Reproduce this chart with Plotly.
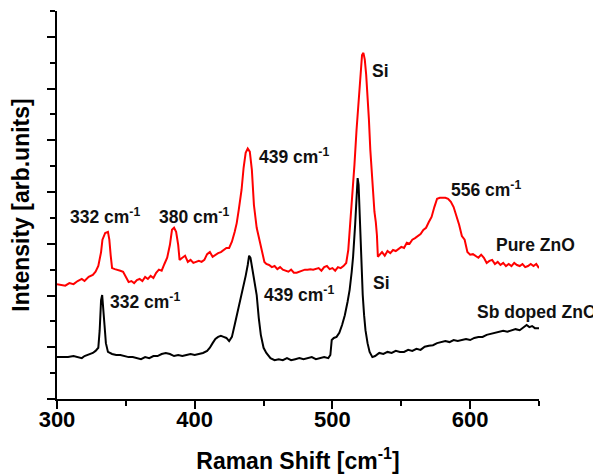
import plotly.graph_objects as go

# Raman shift (cm^-1) and intensity (arb. units)
pure_x = [300,303,306,309,312,315,318,320,323,326,328,330,332,333,335,337,338,339,340,342,344,346,348,350,352,354,356,358,360,362,364,366,368,370,372,374,376,378,380,382,383.5,385,386.5,388,389,391,393,395,397,399,401,403,405,407,409,411,413,415,417,419,421,423,425,427,429,430.5,432,434,435.5,437,438.5,440,441.5,443,445,447,449,450.6,452,454,456,458,460,462,464,466,468,470,472,474,476,478,480,482,484,486,488,490,492,494,496,498,500,502,504,506,508,510,511.5,513,514.5,516,517.5,519,520.5,521.5,522.5,523.5,524.5,525.5,526.5,527.5,528.5,529.5,530.5,531.5,532.3,533,534.5,536,538,540,542,544,546,548,550,552,554,556,558,560,562,564,566,568,570,572,574,576,578,580,582,584,586,588,590,592,594,596,598,600,602,604,606,608,610,612,614,616,618,620,622,624,626,628,630,632,634,636,638,640,642,644,646,648,650]
pure_y = [2.22,2.21,2.19,2.24,2.22,2.28,2.32,2.28,2.36,2.40,2.46,2.57,2.84,3.08,3.21,3.23,3.08,2.77,2.53,2.51,2.50,2.48,2.46,2.36,2.26,2.28,2.24,2.30,2.32,2.28,2.36,2.32,2.38,2.34,2.44,2.50,2.48,2.61,2.73,2.98,3.27,3.31,3.23,2.98,2.69,2.73,2.77,2.65,2.69,2.63,2.65,2.67,2.65,2.69,2.80,2.84,2.75,2.79,2.82,2.84,2.88,2.92,2.92,3.04,3.23,3.40,3.66,4.04,4.47,4.76,4.84,4.78,4.43,3.75,3.31,3.08,2.79,2.65,2.61,2.59,2.55,2.57,2.51,2.55,2.50,2.48,2.46,2.50,2.44,2.44,2.46,2.48,2.50,2.50,2.51,2.50,2.51,2.53,2.48,2.55,2.57,2.51,2.53,2.48,2.55,2.53,2.57,2.63,2.88,3.37,3.95,4.53,5.20,5.78,6.46,6.65,6.69,6.56,6.27,5.88,5.40,4.82,4.33,3.85,3.62,3.42,3.17,2.75,2.79,2.84,2.77,2.86,2.82,2.88,2.86,2.90,2.94,2.92,3.02,3.00,3.08,3.11,3.15,3.19,3.27,3.31,3.42,3.52,3.71,3.87,3.89,3.89,3.89,3.87,3.81,3.71,3.56,3.37,3.15,3.08,2.84,2.79,2.80,2.77,2.73,2.79,2.73,2.63,2.67,2.69,2.61,2.65,2.59,2.63,2.57,2.61,2.57,2.63,2.59,2.57,2.61,2.55,2.57,2.61,2.57,2.61,2.53]

sb_x = [300,304,308,312,316,318,320,322,324,326,328,330,331,332,332.8,333.5,334.5,335.5,337,340,343,346,349,352,355,358,361,364,367,370,373,376,379,382,385,388,391,394,397,400,403,406,409,411,413,415,417,419,421,423,425,427,429,431,433,435,437,438.5,439.5,440.5,442,443.5,445,446.5,448,450,452,455,458,461,464,467,470,473,476,479,482,485,488,491,494,497,498.5,499.5,501,503,505,507,509,511,512.5,514,515,516.5,517.5,518.3,519,520,521,522,523,524,525.5,527,529,531,534,537,540,543,546,549,552,555,558,561,564,567,570,573,576,579,582,585,588,591,594,597,600,603,606,609,612,615,618,621,624,627,630,633,636,639,641,643,645,647,650]
sb_y = [0.81,0.81,0.81,0.83,0.81,0.79,0.83,0.85,0.87,0.89,0.93,0.99,1.33,1.91,2.01,1.82,1.43,1.08,0.91,0.87,0.85,0.85,0.83,0.81,0.81,0.79,0.77,0.81,0.79,0.83,0.83,0.87,0.89,0.87,0.83,0.85,0.83,0.85,0.87,0.85,0.87,0.89,0.93,0.99,1.08,1.16,1.20,1.22,1.20,1.18,1.12,1.20,1.43,1.66,1.91,2.15,2.38,2.59,2.77,2.73,2.50,2.21,2.01,1.57,1.24,0.99,0.89,0.79,0.75,0.77,0.75,0.79,0.75,0.77,0.79,0.77,0.79,0.81,0.77,0.79,0.81,0.79,0.85,1.14,1.18,1.20,1.28,1.43,1.62,1.88,2.11,2.46,2.75,3.37,3.95,4.27,4.14,3.37,2.59,2.01,1.62,1.33,1.08,0.91,0.81,0.83,0.89,0.87,0.91,0.89,0.93,0.91,0.91,0.95,0.93,0.97,0.95,1.01,1.03,1.04,1.08,1.10,1.12,1.10,1.14,1.12,1.14,1.16,1.14,1.18,1.20,1.20,1.24,1.26,1.28,1.30,1.32,1.30,1.33,1.35,1.33,1.39,1.43,1.39,1.41,1.37,1.37]

# labels: (text, x, y)
labels = [
    ("332 cm<sup>-1</sup>", 307.8, 3.54),
    ("380 cm<sup>-1</sup>", 372.4, 3.54),
    ("439 cm<sup>-1</sup>", 445.0, 4.70),
    ("Si", 527.0, 6.34),
    ("556 cm<sup>-1</sup>", 584.4, 4.06),
    ("Pure ZnO", 617.1, 2.98),
    ("332 cm<sup>-1</sup>", 336.9, 1.90),
    ("439 cm<sup>-1</sup>", 448.7, 2.03),
    ("Si", 527.8, 2.24),
    ("Sb doped ZnO", 603.5, 1.68),
]

FONT = "Arial, Liberation Sans, sans-serif"

fig = go.Figure()
fig.add_trace(go.Scatter(x=pure_x, y=pure_y, mode="lines",
                         line=dict(color="#ff0000", width=2), name="Pure ZnO"))
fig.add_trace(go.Scatter(x=sb_x, y=sb_y, mode="lines",
                         line=dict(color="#000000", width=2), name="Sb doped ZnO"))

for text, x, y in labels:
    fig.add_annotation(x=x, y=y, xref="x", yref="y", text=text, showarrow=False,
                       xanchor="left", yanchor="middle",
                       font=dict(family=FONT, size=17.5, color="#111111", weight="bold"))

# page body has an 8 px margin, so the figure is sized to fit the window
fig.update_layout(
    width=593, height=466,
    margin=dict(l=49, r=62, t=3, b=75),
    paper_bgcolor="white", plot_bgcolor="white",
    showlegend=False,
    font=dict(family=FONT, color="black"),
)
fig.update_xaxes(
    automargin=False,
    range=[300, 650], tickmode="linear", tick0=300, dtick=100,
    ticks="outside", ticklen=8, tickwidth=1.5, tickcolor="black",
    ticklabelstandoff=-8,
    minor=dict(dtick=50, ticks="outside", ticklen=5, tickwidth=1.5, tickcolor="black"),
    showline=True, linecolor="black", linewidth=1.5, showgrid=False, zeroline=False,
    tickfont=dict(family=FONT, size=22, color="black", weight="bold"),
    title=dict(text="Raman Shift [cm<sup>-1</sup>]", standoff=24,
               font=dict(family=FONT, size=23, color="black", weight="bold")),
)
fig.update_yaxes(
    automargin=False,
    range=[0, 7.5], tickmode="linear", tick0=0, dtick=1,
    ticks="outside", ticklen=8, tickwidth=1.5, tickcolor="black",
    minor=dict(dtick=0.5, ticks="outside", ticklen=5, tickwidth=1.5, tickcolor="black"),
    showticklabels=False,
    showline=True, linecolor="black", linewidth=1.5, showgrid=False, zeroline=False,
    title=dict(text="Intensity [arb.units]", standoff=12,
               font=dict(family=FONT, size=23, color="black", weight="bold")),
)

fig.write_html("out.html")
